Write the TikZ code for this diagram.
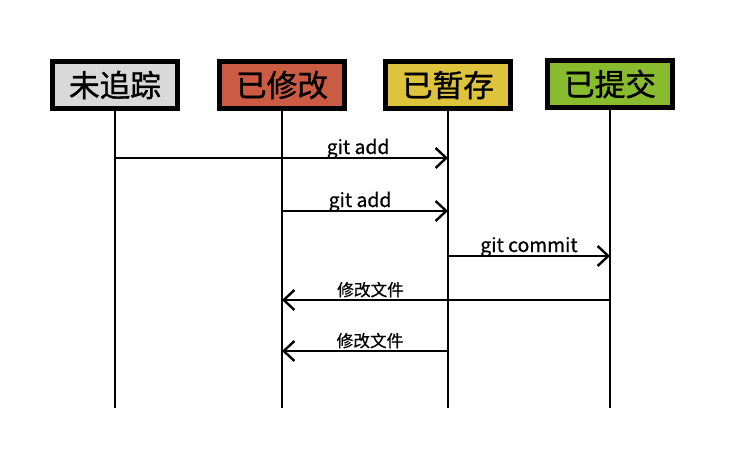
\documentclass[tikz,border=0pt]{standalone}
\usepackage{fontspec}
\setmainfont{Noto Sans CJK SC}
\newfontfamily\statefont[FakeBold=1.2]{Noto Sans CJK SC}
\newfontfamily\msgfont[FakeBold=0.6]{Noto Sans CJK SC}
\usetikzlibrary{arrows.meta}
\definecolor{untrackedgray}{HTML}{D9D9D9}
\definecolor{modifiedred}{HTML}{CB5B42}
\definecolor{stagedyellow}{HTML}{DEC43C}
\definecolor{committedgreen}{HTML}{89BB2F}
\begin{document}
\begin{tikzpicture}[x=0.75pt, y=-0.75pt,
    state/.style={draw, line width=3.5pt, minimum width=94pt, minimum height=35pt, font=\statefont\fontsize{23}{23}\selectfont},
    life/.style={line width=1.8pt},
    msg/.style={line width=1.8pt, -{Straight Barb[length=8pt,width=15pt,line width=1.8pt]}},
    lbl/.style={anchor=base, yshift=3pt, inner sep=0pt, font=\msgfont\fontsize{14.5}{14.5}\selectfont},
    cjklbl/.style={lbl, font=\msgfont\fontsize{12.5}{12.5}\selectfont}]
    \useasboundingbox (0,0) rectangle (729,471);
    % states
    \node[state, fill=untrackedgray] (untracked) at (115,85) {未追踪};
    \node[state, fill=modifiedred] (modified) at (282,85) {已修改};
    \node[state, fill=stagedyellow] (staged) at (448,85) {已暂存};
    \node[state, fill=committedgreen] (committed) at (610,84) {已提交};
    % lifelines
    \foreach \n in {untracked,modified,staged,committed} {
        \coordinate (\n-end) at (\n.south |- 0,408);
        \draw[life] (\n.south) -- (\n-end);
    }
    % messages
    \coordinate (row1) at (0,158);
    \coordinate (row2) at (0,211);
    \coordinate (row3) at (0,256);
    \coordinate (row4) at (0,300);
    \coordinate (row5) at (0,351);
    \draw[msg] (untracked |- row1) -- node[lbl, pos=.73] {git add} (staged |- row1);
    \draw[msg] (modified |- row2) -- node[lbl, pos=.47] {git add} (staged |- row2);
    \draw[msg] (staged |- row3) -- node[lbl, pos=.5] {git commit} (committed |- row3);
    \draw[msg] (committed |- row4) -- node[cjklbl, pos=.73] {修改文件} (modified |- row4);
    \draw[msg] (staged |- row5) -- node[cjklbl, pos=.47] {修改文件} (modified |- row5);
\end{tikzpicture}
\end{document}
